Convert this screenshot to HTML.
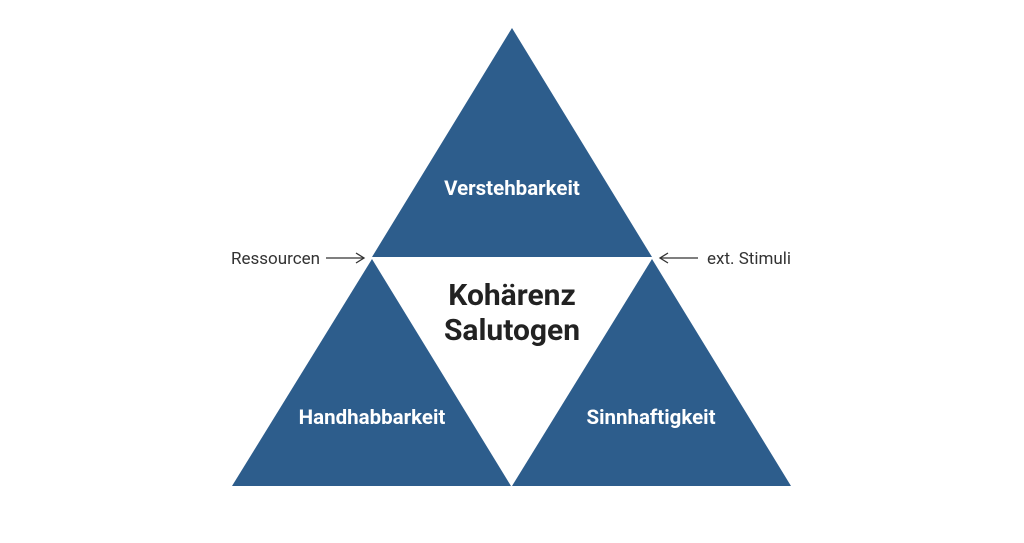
<!DOCTYPE html>
<html><head><style>
body{margin:0;width:1024px;height:538px;background:#fff;overflow:hidden}
</style></head><body>
<svg width="1024" height="538" viewBox="0 0 1024 538" xmlns="http://www.w3.org/2000/svg">
<g fill="#2d5d8c">
<polygon points="512,28 652,257 372,257"/>
<polygon points="372,259 511,486 232,486"/>
<polygon points="652,259 791,486 512,486"/>
</g>
<g font-family="Roboto, 'Liberation Sans', sans-serif" fill="#fff" font-weight="bold" font-size="20.5" text-anchor="middle">
<text x="512" y="195">Verstehbarkeit</text>
<text x="372" y="424">Handhabbarkeit</text>
<text x="651" y="424">Sinnhaftigkeit</text>
</g>
<g font-family="Roboto, 'Liberation Sans', sans-serif" fill="#222" font-weight="bold" font-size="30" text-anchor="middle">
<text x="512" y="305">Kohärenz</text>
<text x="512" y="340">Salutogen</text>
</g>
<g font-family="Roboto, 'Liberation Sans', sans-serif" fill="#333" font-size="17">
<text x="231" y="264">Ressourcen</text>
<text x="707" y="264">ext. Stimuli</text>
</g>
<g stroke="#333" stroke-width="1.3" fill="none">
<line x1="326" y1="258" x2="364" y2="258"/>
<polyline points="356,253 364,258 356,263"/>
<line x1="660" y1="258" x2="698" y2="258"/>
<polyline points="668,253 660,258 668,263"/>
</g>
</svg>
</body></html>
